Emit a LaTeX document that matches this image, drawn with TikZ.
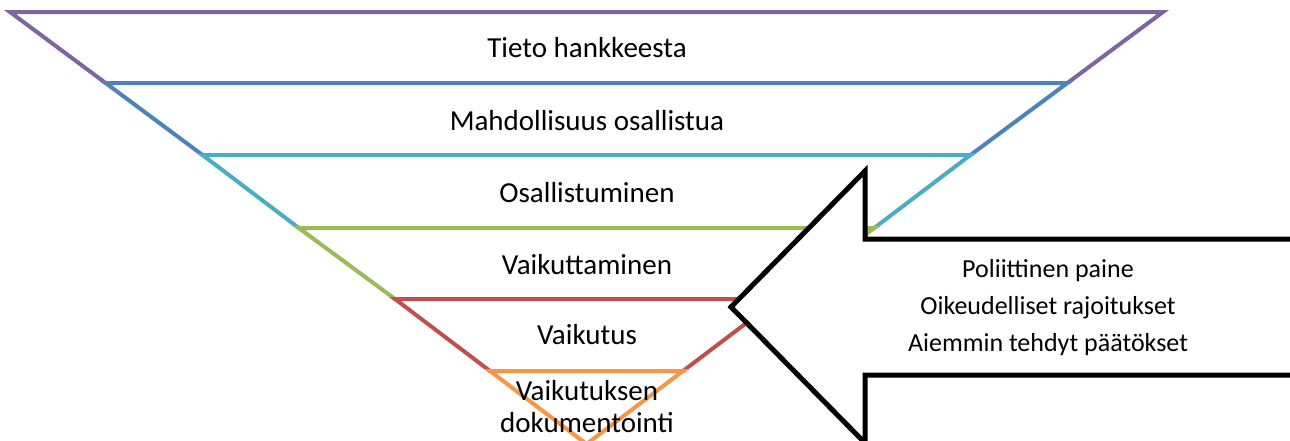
\documentclass[tikz,border=0pt]{standalone}
\usepackage{fontspec}
\setmainfont{Carlito}
\definecolor{cPurple}{HTML}{8064A2}
\definecolor{cBlue}{HTML}{4F81BD}
\definecolor{cTeal}{HTML}{4BACC6}
\definecolor{cGreen}{HTML}{9BBB59}
\definecolor{cRed}{HTML}{C0504D}
\definecolor{cOrange}{HTML}{F79646}
\tikzset{
  layer/.style={line width=4pt, line join=miter},
  lbl/.style={anchor=base, inner sep=0pt, font=\fontsize{29}{32}\selectfont},
  side/.style={anchor=base, inner sep=0pt, font=\fontsize{26}{30}\selectfont},
  bigarrow/.style={draw=black, fill=white, line width=5pt, line join=miter}
}
\begin{document}
\begin{tikzpicture}[x=1pt,y=-1pt]
\useasboundingbox (0,0) rectangle (1290,440);
\clip (0,0) rectangle (1290,440);
% funnel coordinates
\coordinate (L0) at (10,12);   \coordinate (R0) at (1163,12);
\coordinate (L1) at (105.6,83); \coordinate (R1) at (1067.4,83);
\coordinate (L2) at (202.5,155); \coordinate (R2) at (970.5,155);
\coordinate (L3) at (298.8,228); \coordinate (R3) at (874.2,228);
\coordinate (L4) at (395,299); \coordinate (R4) at (778,299);
\coordinate (L5) at (490,371); \coordinate (R5) at (683,371);
\coordinate (A) at (586.5,444);
\draw[layer, cPurple] (L1) -- (L0) -- (R0) -- (R1);
\draw[layer, cBlue] (L2) -- (L1) -- (R1) -- (R2);
\draw[layer, cTeal] (L3) -- (L2) -- (R2) -- (R3);
\draw[layer, cGreen] (L4) -- (L3) -- (R3) -- (R4);
\draw[layer, cRed] (L5) -- (L4) -- (R4) -- (R5);
\draw[layer, cOrange] (A) -- (L5) -- (R5) -- cycle;
% labels
\node[lbl] (t1) at (587,57) {Tieto hankkeesta};
\node[lbl] (t2) at (587,130) {Mahdollisuus osallistua};
\node[lbl] (t3) at (587,202) {Osallistuminen};
\node[lbl] (t4) at (587,274) {Vaikuttaminen};
\node[lbl] (t5) at (587,344) {Vaikutus};
\node[lbl] (t6) at (587,400) {Vaikutuksen};
\node[lbl] (t7) at (587,432) {dokumentointi};
% arrow
\coordinate (tip) at (731,307);
\coordinate (ht) at (865,171);
\coordinate (hb) at (865,443);
\coordinate (st) at (865,239);
\coordinate (sb) at (865,375);
\coordinate (et) at (1300,239);
\coordinate (eb) at (1300,375);
\draw[bigarrow] (tip) -- (ht) -- (st) -- (et) -- (eb) -- (sb) -- (hb) -- cycle;
\node[side] (s1) at (1048,277) {Poliittinen paine};
\node[side] (s2) at (1048,314) {Oikeudelliset rajoitukset};
\node[side] (s3) at (1048,351) {Aiemmin tehdyt päätökset};
\end{tikzpicture}
\end{document}
